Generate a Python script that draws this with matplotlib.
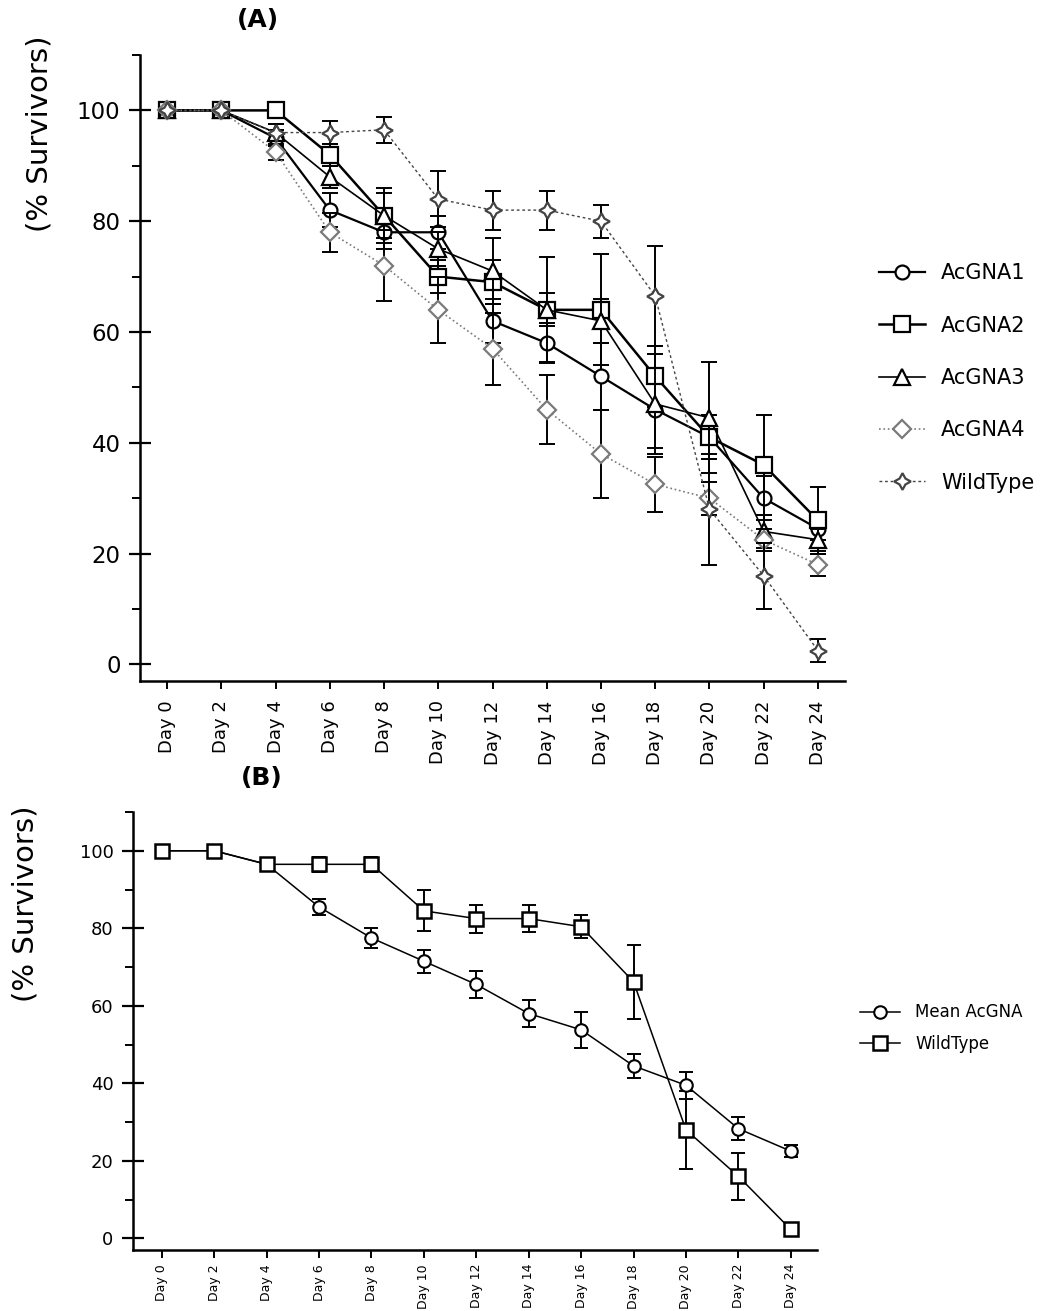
import matplotlib
matplotlib.use("Agg")
import matplotlib.pyplot as plt
from matplotlib.ticker import MultipleLocator
import numpy as np

days = ["Day 0", "Day 2", "Day 4", "Day 6", "Day 8", "Day 10", "Day 12",
        "Day 14", "Day 16", "Day 18", "Day 20", "Day 22", "Day 24"]

# panel A
acgna1 = [100, 100, 95, 82, 78, 78, 62, 58, 52, 46, 41, 30, 24.5]
acgna1_err = [0, 0, 1.5, 3, 3, 3, 4, 3.6, 6, 7, 4, 4, 2]
acgna2 = [100, 100, 100, 92, 81, 70, 69, 64, 64, 52, 41, 36, 26]
acgna2_err = [0, 0, 0, 2, 4, 3, 4, 9.5, 10, 5.5, 4, 9, 6]
acgna3 = [100, 100, 96, 88, 81, 75, 71, 64, 62, 47, 44.5, 24, 22.5]
acgna3_err = [0, 0, 1.5, 2, 5, 3, 6, 3, 4, 9, 10, 3, 2]
acgna4 = [100, 100, 92.5, 78, 72, 64, 57, 46, 38, 32.5, 30, 22.5, 18]
acgna4_err = [0, 0, 1.5, 3.5, 6.4, 6, 6.5, 6.3, 8, 5, 3, 2, 2]
wild_a = [100, 100, 96, 96, 96.5, 84, 82, 82, 80, 66.5, 28, 16, 2.5]
wild_a_err = [0, 0, 1.5, 2, 2.3, 5, 3.5, 3.5, 3, 9, 10, 6, 2]

# panel B
mean_b = [100, 100, 96.5, 85.5, 77.5, 71.5, 65.5, 58, 53.8, 44.5, 39.5, 28.3, 22.5]
mean_b_err = [0, 0, 1.5, 2, 2.7, 3, 3.5, 3.5, 4.7, 3, 3.5, 3, 1.5]
wild_b = [100, 100, 96.5, 96.5, 96.5, 84.5, 82.5, 82.5, 80.4, 66.2, 28, 16, 2.3]
wild_b_err = [0, 0, 1.5, 2, 2, 5.3, 3.6, 3.5, 3, 9.6, 10, 6, 1]

plt.rcParams['font.family'] = ['DejaVu Sans']
x = np.arange(len(days))
star = (4, 1, 0)

fig = plt.figure(figsize=(10.6, 13.11), dpi=100)
W, H = 1060, 1311

def setup(ax, ylabsize, xlabsize, xpad):
    ax.set_xlim(-0.5, 12.5)
    ax.set_ylim(-3, 110)
    ax.spines['top'].set_visible(False)
    ax.spines['right'].set_visible(False)
    ax.spines['left'].set_linewidth(1.8)
    ax.spines['bottom'].set_linewidth(1.8)
    ax.set_xticks(x)
    ax.set_xticklabels(days, rotation=90, fontsize=xlabsize)
    ax.yaxis.set_minor_locator(MultipleLocator(10))
    ax.set_yticks([0, 20, 40, 60, 80, 100])
    ax.tick_params(axis='y', which='major', direction='inout', length=16, width=1.6, labelsize=ylabsize, pad=6)
    ax.tick_params(axis='y', which='minor', direction='out', length=6, width=1.4)
    ax.tick_params(axis='x', direction='out', length=6, width=1.4, pad=xpad)

# ---- panel A ----
axA = fig.add_axes([140/W, 1-681/H, (845-140)/W, (681-55)/H])
setup(axA, 16.5, 13, 8)
styles = [
    (acgna1, acgna1_err, 'AcGNA1', 'o', 10, 'black', '-', 1.6),
    (acgna2, acgna2_err, 'AcGNA2', 's', 12, 'black', '-', 1.8),
    (acgna3, acgna3_err, 'AcGNA3', '^', 11, 'black', '-', 1.2),
    (acgna4, acgna4_err, 'AcGNA4', 'D', 9, '#7a7a7a', ':', 1.2),
    (wild_a, wild_a_err, 'WildType', star, 12, '#444444', (0, (2, 2)), 1.0),
]
for y, e, lab, m, ms, c, ls, lw in styles:
    axA.errorbar(x, y, yerr=e, fmt='none', ecolor='black', elinewidth=1.4, capsize=6, capthick=1.4)
    axA.plot(x, y, linestyle=ls, color=c, lw=lw, marker=m, ms=ms, mfc='white', mec=c, mew=1.6, label=lab)

fig.legend(*axA.get_legend_handles_labels(), loc='center left',
           bbox_to_anchor=(860/W, 1-378/H), frameon=False, fontsize=15,
           labelspacing=1.55, handlelength=2.2, handletextpad=0.8)
fig.text(258/W, 1-20/H, "(A)", fontsize=18, fontweight='bold', ha='center', va='center')
fig.text(40/W, 1-134/H, "(% Survivors)", fontsize=21, rotation=90, ha='center', va='center')

# ---- panel B ----
axB = fig.add_axes([133/W, 1-1250/H, (817-133)/W, (1250-812)/H])
setup(axB, 13, 9, 4)
axB.set_xlim(-0.55, 12.5)
axB.errorbar(x, mean_b, yerr=mean_b_err, fmt='none', ecolor='black', elinewidth=1.4, capsize=5, capthick=1.4)
axB.errorbar(x, wild_b, yerr=wild_b_err, fmt='none', ecolor='black', elinewidth=1.4, capsize=5, capthick=1.4)
axB.plot(x, mean_b, '-', color='black', lw=1.1, marker='o', ms=9, mfc='white', mec='black', mew=1.5, label='Mean AcGNA')
axB.plot(x, wild_b, '-', color='black', lw=1.1, marker='s', ms=10, mfc='white', mec='black', mew=1.8, label='WildType')

fig.legend(*axB.get_legend_handles_labels(), loc='center left',
           bbox_to_anchor=(845/W, 1-1028/H), frameon=False, fontsize=12,
           labelspacing=0.8, handlelength=2.4, handletextpad=0.9)
fig.text(262/W, 1-778/H, "(B)", fontsize=18, fontweight='bold', ha='center', va='center')
fig.text(26/W, 1-904/H, "(% Survivors)", fontsize=21, rotation=90, ha='center', va='center')

fig.savefig("out.png", dpi=100)
